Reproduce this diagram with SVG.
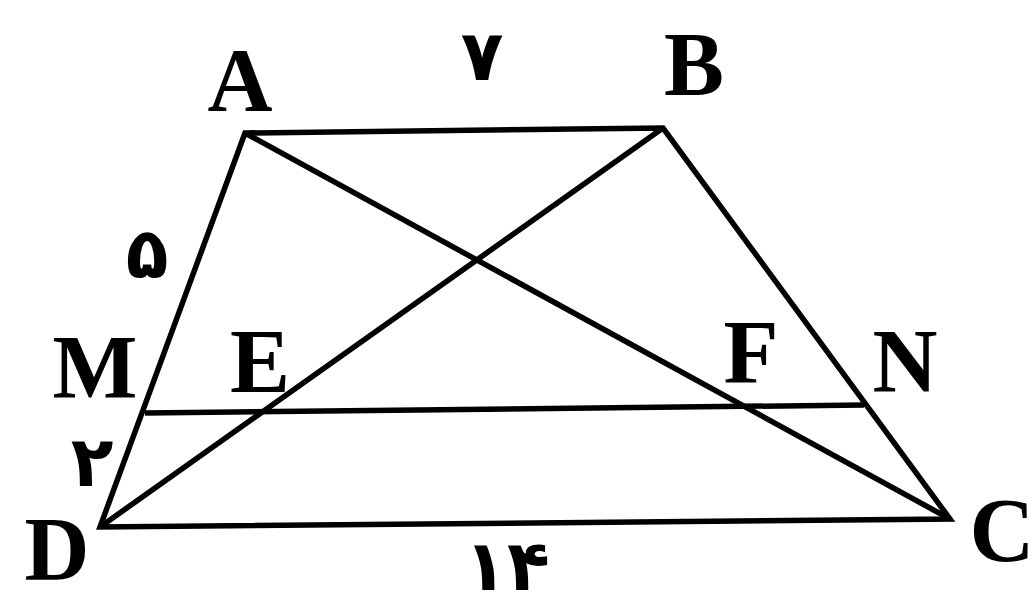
<svg xmlns="http://www.w3.org/2000/svg" width="1033" height="610" viewBox="0 0 1033 610">
<style>
.ln{fill:none;stroke:#000;stroke-width:5.5;stroke-linejoin:miter;stroke-linecap:butt}
.lt{font-family:"Liberation Serif","Times New Roman",serif;font-weight:bold;font-size:90px;fill:#000;text-anchor:middle}
.nm{font-family:"DejaVu Sans",sans-serif;font-weight:bold;font-size:70px;fill:#000;text-anchor:middle}
</style>
<rect width="1033" height="610" fill="#fff"/>
<g id="figure">
<path class="ln" d="M245,133 L663,128 L950,519 L100,527 Z"/>
<path class="ln" d="M245,133 L950,519"/>
<path class="ln" d="M663,128 L100,527"/>
<path class="ln" d="M145,413 L864,405"/>
</g>
<g id="labels">
<text class="lt" x="240" y="111">A</text>
<text class="lt" x="694" y="95">B</text>
<text class="lt" x="1002" y="561">C</text>
<text class="lt" x="57" y="580">D</text>
<text class="lt" x="95" y="398">M</text>
<text class="lt" x="260" y="392">E</text>
<text class="lt" x="751" y="383">F</text>
<text class="lt" x="905" y="392">N</text>
<text class="nm" x="482" y="80">۷</text>
<text class="nm" x="147" y="278">۵</text>
<text class="nm" x="92" y="486">۲</text>
<text class="nm" x="507" y="590">۱۴</text>
</g>
</svg>
